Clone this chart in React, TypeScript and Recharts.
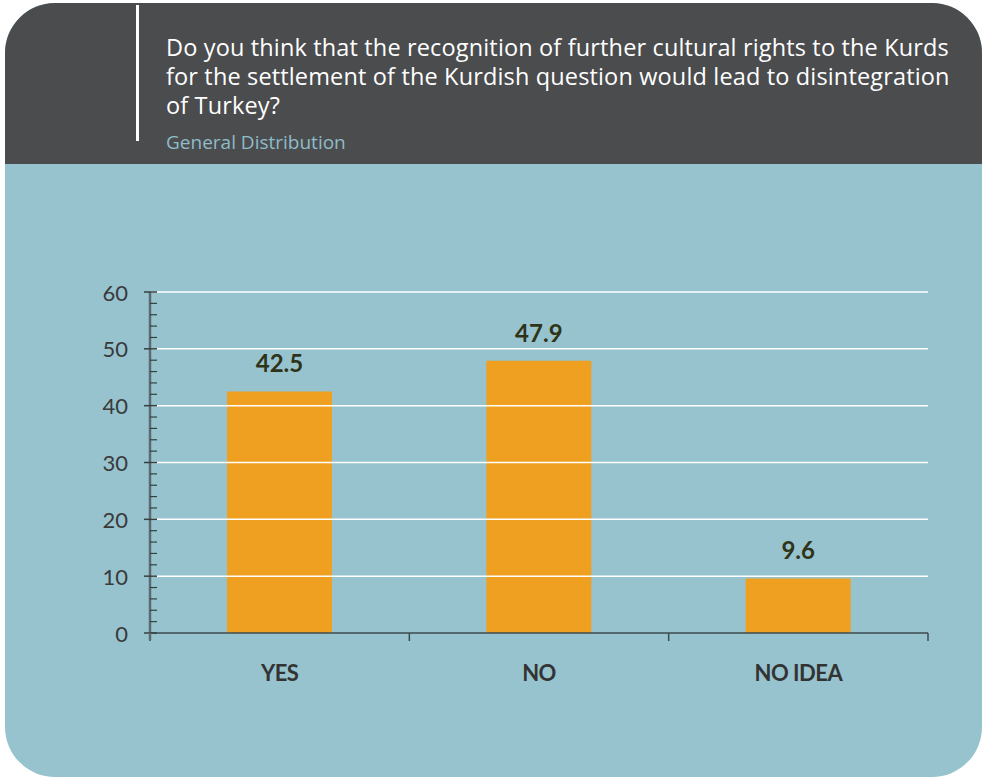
import { BarChart, Bar, XAxis, YAxis, ReferenceLine, LabelList } from "recharts";

// survey answers (percent)
const categories = ["YES", "NO", "NO IDEA"];
const shares = [42.5, 47.9, 9.6];

const majorTicks = [0, 10, 20, 30, 40, 50, 60];
const allTicks = [0, 2, 4, 6, 8, 10, 12, 14, 16, 18, 20, 22, 24, 26, 28, 30, 32, 34, 36, 38, 40, 42, 44, 46, 48, 50, 52, 54, 56, 58, 60];
const gridValues = [10, 20, 30, 40, 50, 60];

const titleLines = [
    "Do you think that the recognition of further cultural rights to the Kurds",
    "for the settlement of the Kurdish question would lead to disintegration",
    "of Turkey?",
];

const data = categories.map((name, i) => ({ name, value: shares[i] }));

const FONT = "Lato, 'Noto Sans', sans-serif";
const TITLE_FONT = "'Open Sans', 'Noto Sans', sans-serif";
const PLOT_LEFT = 150;
const PLOT_RIGHT = 928;
const BAND = (PLOT_RIGHT - PLOT_LEFT) / categories.length;

function YTick(props: any) {
    const { x, y, payload } = props;
    const v = payload.value;
    const major = majorTicks.includes(v);
    return (
        <g>
            {major ? (
                <>
                    <line x1={x - 6} x2={x + 7} y1={y} y2={y} stroke="#33403f" strokeWidth={1.5} />
                    <text x={x - 22} y={y} textAnchor="end" dominantBaseline="central" fontSize={22} fill="#3a3a3a" fontFamily={FONT}>
                        {v}
                    </text>
                </>
            ) : (
                <line x1={x} x2={x + 7} y1={y} y2={y} stroke="#33403f" strokeWidth={1.2} />
            )}
            {v === 0 && <line x1={x} x2={x} y1={y} y2={y + 7} stroke="#5d6b70" strokeWidth={2.5} />}
        </g>
    );
}

function XTick(props: any) {
    const { x, y, payload, index } = props;
    const last = index === categories.length - 1;
    return (
        <g>
            <line x1={x - BAND / 2} x2={x - BAND / 2} y1={y} y2={y + 8} stroke="#3d4a4f" strokeWidth={1.5} />
            {last && <line x1={x + BAND / 2} x2={x + BAND / 2} y1={y} y2={y + 8} stroke="#3d4a4f" strokeWidth={1.5} />}
            <text
                x={x}
                y={y + 39}
                textAnchor="middle"
                dominantBaseline="central"
                fontSize={22}
                fontWeight={700}
                letterSpacing={-0.5}
                fill="#333333"
                fontFamily={FONT}
            >
                {payload.value}
            </text>
        </g>
    );
}

export default function App() {
    return (
        <div style={{ position: "fixed", left: 0, top: 0, width: 983, height: 778, fontFamily: FONT }}>
            <div
                style={{
                    position: "absolute",
                    left: 5,
                    top: 3,
                    width: 977,
                    height: 774,
                    borderRadius: 50,
                    overflow: "hidden",
                    background: "#97c3cf",
                }}
            >
                <div style={{ position: "absolute", left: 0, top: 0, width: "100%", height: 161, background: "#4b4c4e" }} />
                <div style={{ position: "absolute", left: 131, top: 2, width: 3, height: 136, background: "#ffffff" }} />
                <div
                    style={{
                        position: "absolute",
                        left: 161,
                        top: 30,
                        whiteSpace: "nowrap",
                        color: "#ffffff",
                        fontFamily: TITLE_FONT,
                        fontSize: 23.5,
                        letterSpacing: 0.15,
                        lineHeight: "29px",
                    }}
                >
                    {titleLines.map((l) => (
                        <div key={l}>{l}</div>
                    ))}
                </div>
                <div style={{ position: "absolute", left: 161, top: 127, color: "#8fbcc8", fontFamily: TITLE_FONT, fontSize: 19, lineHeight: "24px" }}>
                    General Distribution
                </div>
            </div>
            <div style={{ position: "absolute", left: 0, top: 0 }}>
                <BarChart width={983} height={778} data={data} margin={{ top: 292, right: 55, bottom: 95, left: 90 }}>
                    {gridValues.map((g) => (
                        <ReferenceLine key={g} y={g} stroke="#ffffff" strokeWidth={1.5} />
                    ))}
                    <XAxis
                        dataKey="name"
                        height={50}
                        tickSize={0}
                        tickMargin={0}
                        tickLine={false}
                        axisLine={{ stroke: "#3d4a4f", strokeWidth: 1.5 }}
                        tick={<XTick />}
                        interval={0}
                    />
                    <YAxis
                        width={60}
                        domain={[0, 60]}
                        ticks={allTicks}
                        interval={0}
                        tickSize={0}
                        tickMargin={0}
                        tickLine={false}
                        axisLine={{ stroke: "#5d6b70", strokeWidth: 2.5 }}
                        tick={<YTick />}
                    />
                    <Bar dataKey="value" fill="#f0a020" barSize={105} isAnimationActive={false}>
                        <LabelList dataKey="value" position="top" offset={19} fill="#2f3318" fontSize={24} fontWeight={700} fontFamily={FONT} />
                    </Bar>
                </BarChart>
            </div>
        </div>
    );
}
